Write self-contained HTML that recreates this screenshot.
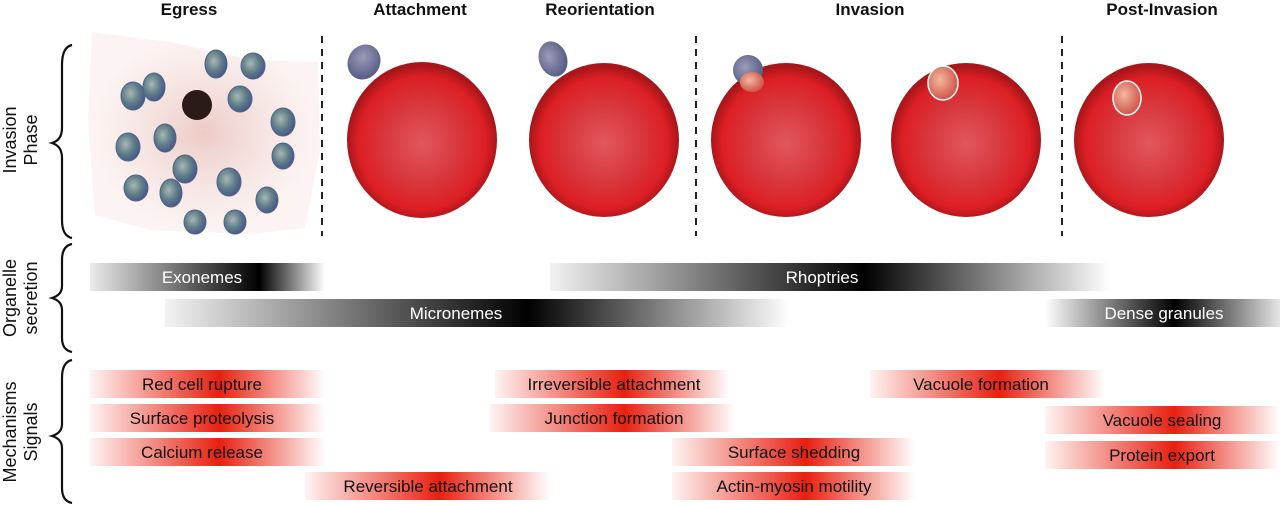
<!DOCTYPE html>
<html><head><meta charset="utf-8"><style>
html,body{margin:0;padding:0;background:#fff;}
svg{display:block;font-family:"Liberation Sans",Arial,sans-serif;}
</style></head><body>
<svg width="1280" height="506" viewBox="0 0 1280 506" xmlns="http://www.w3.org/2000/svg">
<defs>
<radialGradient id="rbc" cx="50%" cy="52%" r="50%">
<stop offset="0" stop-color="#e0585e"/><stop offset="0.55" stop-color="#d8343a"/><stop offset="0.85" stop-color="#dd1f24"/><stop offset="1" stop-color="#a8161a"/></radialGradient>
<radialGradient id="mz" cx="40%" cy="40%" r="60%"><stop offset="0" stop-color="#a8b8b4"/><stop offset="0.6" stop-color="#5f7d88"/><stop offset="1" stop-color="#4a5a8a"/></radialGradient>
<radialGradient id="mzg" cx="40%" cy="40%" r="60%"><stop offset="0" stop-color="#9a9cb8"/><stop offset="1" stop-color="#5a5e86"/></radialGradient>
<radialGradient id="mzr" cx="40%" cy="40%" r="60%"><stop offset="0" stop-color="#f3b8a0"/><stop offset="1" stop-color="#d0564a"/></radialGradient>
<radialGradient id="haze" cx="50%" cy="50%" r="50%"><stop offset="0" stop-color="#e0a8a0" stop-opacity="0.6"/><stop offset="1" stop-color="#f4dcd8" stop-opacity="0.3"/></radialGradient>
<linearGradient id="gEx"><stop offset="0" stop-color="#000" stop-opacity="0.08"/><stop offset="0.72" stop-color="#000"/><stop offset="1" stop-color="#000" stop-opacity="0"/></linearGradient>
<linearGradient id="gMi"><stop offset="0" stop-color="#000" stop-opacity="0.05"/><stop offset="0.58" stop-color="#000"/><stop offset="1" stop-color="#000" stop-opacity="0"/></linearGradient>
<linearGradient id="gRh"><stop offset="0" stop-color="#000" stop-opacity="0.05"/><stop offset="0.56" stop-color="#000"/><stop offset="1" stop-color="#000" stop-opacity="0"/></linearGradient>
<linearGradient id="gDg"><stop offset="0" stop-color="#000" stop-opacity="0"/><stop offset="0.55" stop-color="#000"/><stop offset="1" stop-color="#000" stop-opacity="0.1"/></linearGradient>
<linearGradient id="gR"><stop offset="0" stop-color="#e82010" stop-opacity="0.05"/><stop offset="0.55" stop-color="#e82010"/><stop offset="1" stop-color="#e82010" stop-opacity="0"/></linearGradient>
</defs>

<g font-weight="bold" font-size="17" text-anchor="middle" fill="#111">
<text x="189" y="15">Egress</text><text x="420" y="15">Attachment</text><text x="600" y="15">Reorientation</text><text x="870" y="15">Invasion</text><text x="1162" y="15">Post-Invasion</text>
</g>

<g font-size="18" fill="#111" text-anchor="middle">
<text transform="translate(16,140) rotate(-90)">Invasion</text>
<text transform="translate(37,140) rotate(-90)">Phase</text>
<text transform="translate(16,298) rotate(-90)">Organelle</text>
<text transform="translate(37,298) rotate(-90)">secretion</text>
<text transform="translate(16,432) rotate(-90)">Mechanisms</text>
<text transform="translate(37,432) rotate(-90)">Signals</text>
</g>
<g fill="none" stroke="#111" stroke-width="2.2">
<path d="M72,45 Q62,47 62,65 L62,128 Q62,140 52,143 Q62,146 62,158 L62,220 Q62,236 72,238"/>
<path d="M72,244 Q62,246 62,260 L62,286 Q62,295 52,298 Q62,301 62,310 L62,338 Q62,350 72,352"/>
<path d="M72,360 Q62,362 62,378 L62,424 Q62,433 52,436 Q62,439 62,448 L62,488 Q62,501 72,503"/>
</g>

<path d="M92,32 L170,42 L250,60 L318,62 L320,150 L305,228 L250,234 L150,230 L95,215 L88,120 Z" fill="url(#haze)"/>
<circle cx="197" cy="105" r="15" fill="#2a1a18"/>
<g fill="url(#mz)" stroke="#50648a" stroke-width="1">
<ellipse cx="133" cy="96" rx="12" ry="14"/><ellipse cx="154" cy="87" rx="11" ry="14"/>
<ellipse cx="216" cy="64" rx="11" ry="14"/><ellipse cx="253" cy="66" rx="12" ry="13"/>
<ellipse cx="240" cy="99" rx="12" ry="13"/><ellipse cx="283" cy="122" rx="12" ry="14"/>
<ellipse cx="283" cy="156" rx="11" ry="13"/><ellipse cx="165" cy="138" rx="11" ry="14"/>
<ellipse cx="128" cy="147" rx="12" ry="14"/><ellipse cx="185" cy="169" rx="12" ry="14"/>
<ellipse cx="136" cy="188" rx="12" ry="13"/><ellipse cx="171" cy="193" rx="11" ry="14"/>
<ellipse cx="229" cy="182" rx="12" ry="14"/><ellipse cx="267" cy="200" rx="11" ry="13"/>
<ellipse cx="195" cy="222" rx="11" ry="12"/><ellipse cx="235" cy="222" rx="11" ry="12"/>
</g>

<g stroke="#222" stroke-width="2" stroke-dasharray="7,6">
<line x1="322" y1="36" x2="322" y2="236"/><line x1="696" y1="36" x2="696" y2="236"/><line x1="1062" y1="36" x2="1062" y2="236"/>
</g>

<ellipse cx="422" cy="140" rx="75" ry="78" fill="url(#rbc)"/>
<ellipse cx="604" cy="140" rx="75" ry="77" fill="url(#rbc)"/>
<ellipse cx="786" cy="140" rx="75" ry="77" fill="url(#rbc)"/>
<ellipse cx="966" cy="140" rx="75" ry="77" fill="url(#rbc)"/>
<ellipse cx="1149" cy="140" rx="75" ry="77" fill="url(#rbc)"/>
<ellipse cx="364" cy="62" rx="16" ry="18" fill="url(#mzg)" transform="rotate(30 364 62)"/>
<ellipse cx="553" cy="59" rx="14" ry="18" fill="url(#mzg)" transform="rotate(-20 553 59)"/>
<ellipse cx="748" cy="70" rx="15" ry="15" fill="url(#mzg)"/>
<ellipse cx="752" cy="82" rx="12" ry="10" fill="url(#mzr)"/>
<ellipse cx="943" cy="83" rx="15" ry="17" fill="url(#mzr)" stroke="#fff" stroke-width="1.5"/>
<ellipse cx="1127" cy="98" rx="14" ry="17" fill="url(#mzr)" stroke="#fff" stroke-width="1.5"/>

<rect x="90" y="263" width="235" height="28" fill="url(#gEx)"/>
<rect x="165" y="299" width="625" height="28" fill="url(#gMi)"/>
<rect x="550" y="263" width="560" height="28" fill="url(#gRh)"/>
<rect x="1045" y="299" width="235" height="28" fill="url(#gDg)"/>
<g fill="#fff" font-size="17" text-anchor="middle">
<text x="202" y="283">Exonemes</text><text x="456" y="319">Micronemes</text>
<text x="822" y="283">Rhoptries</text><text x="1164" y="319">Dense granules</text>
</g>

<g fill="url(#gR)">
<rect x="90" y="370" width="235" height="28"/><rect x="90" y="404" width="235" height="28"/>
<rect x="90" y="438" width="235" height="28"/><rect x="305" y="472" width="245" height="28"/>
<rect x="495" y="370" width="235" height="28"/><rect x="490" y="404" width="245" height="28"/>
<rect x="672" y="438" width="243" height="28"/><rect x="672" y="472" width="243" height="28"/>
<rect x="870" y="370" width="235" height="28"/><rect x="1045" y="406" width="235" height="28"/>
<rect x="1045" y="441" width="235" height="28"/>
</g>
<g fill="#111" font-size="17" text-anchor="middle">
<text x="202" y="390">Red cell rupture</text><text x="202" y="424">Surface proteolysis</text>
<text x="202" y="458">Calcium release</text><text x="428" y="492">Reversible attachment</text>
<text x="614" y="390">Irreversible attachment</text><text x="614" y="424">Junction formation</text>
<text x="794" y="458">Surface shedding</text><text x="794" y="492">Actin-myosin motility</text>
<text x="981" y="390">Vacuole formation</text><text x="1162" y="426">Vacuole sealing</text>
<text x="1162" y="461">Protein export</text>
</g>
</svg>
</body></html>
